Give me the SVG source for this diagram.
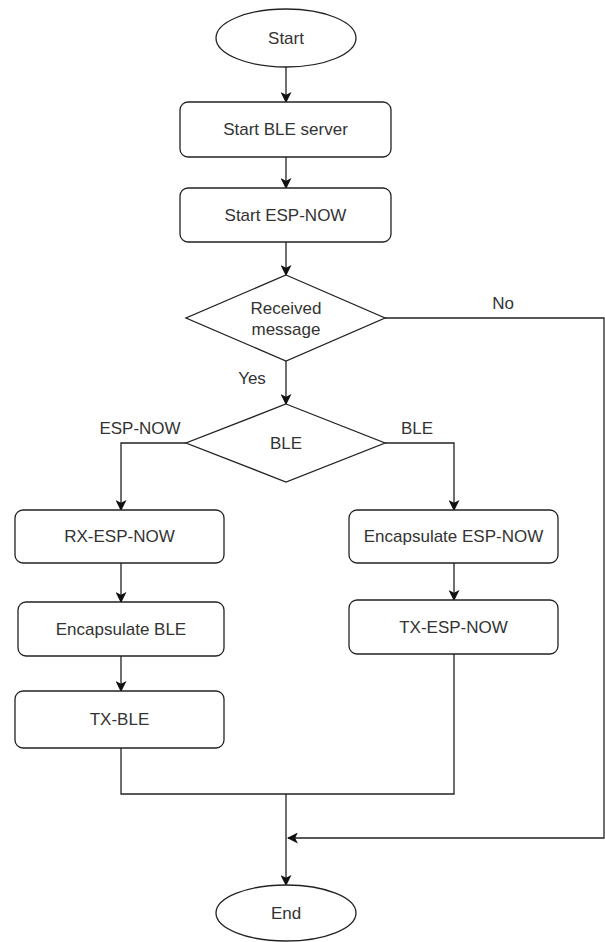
<svg xmlns="http://www.w3.org/2000/svg" width="605" height="942" viewBox="0 0 605 942">
<style>
.s{fill:#fff;stroke:#222;stroke-width:1.3}
.t{font-family:"Liberation Sans",Arial,sans-serif;font-size:17px;fill:#333;text-anchor:middle;dominant-baseline:central}
.c{fill:none;stroke:#222;stroke-width:1.3}
</style>
<defs>
<marker id="a" viewBox="0 0 10 10" refX="9" refY="5" markerWidth="11" markerHeight="11" markerUnits="userSpaceOnUse" orient="auto">
<path d="M0,0 L10,5 L0,10 L2.5,5 Z" fill="#111"/>
</marker>
</defs>
<g id="connectors">
<path class="c" d="M286,67 V102" marker-end="url(#a)"/>
<path class="c" d="M286,157 V188" marker-end="url(#a)"/>
<path class="c" d="M286,242 V275" marker-end="url(#a)"/>
<path class="c" d="M286,361 V404" marker-end="url(#a)"/>
<path class="c" d="M186,443 H121 V510" marker-end="url(#a)"/>
<path class="c" d="M385,443 H454 V510" marker-end="url(#a)"/>
<path class="c" d="M121,563 V602" marker-end="url(#a)"/>
<path class="c" d="M121,656 V691" marker-end="url(#a)"/>
<path class="c" d="M454,563 V600" marker-end="url(#a)"/>
<path class="c" d="M121,748 V794 H454 V654"/>
<path class="c" d="M286,794 V885" marker-end="url(#a)"/>
<path class="c" d="M385,318 H604 V838 H288" marker-end="url(#a)"/>
<text class="t" x="503" y="303">No</text>
<text class="t" x="252" y="378">Yes</text>
<text class="t" x="140" y="428">ESP-NOW</text>
<text class="t" x="417" y="428">BLE</text>
</g>
<g id="start"><ellipse class="s" cx="286" cy="38" rx="70" ry="29"/><text class="t" x="286" y="38">Start</text></g>
<g id="ble_server"><rect class="s" x="180" y="102" width="211" height="55" rx="8"/><text class="t" x="285.5" y="129.5">Start BLE server</text></g>
<g id="espnow"><rect class="s" x="180" y="188" width="211" height="54" rx="8"/><text class="t" x="285.5" y="215">Start ESP-NOW</text></g>
<g id="received"><path class="s" d="M286,275 L385,318 L286,361 L186,318 Z"/><text class="t" x="286" y="308">Received</text><text class="t" x="286" y="329">message</text></g>
<g id="ble_dec"><path class="s" d="M286,404 L385,443 L286,482 L186,443 Z"/><text class="t" x="286" y="443">BLE</text></g>
<g id="rx_espnow"><rect class="s" x="15" y="510" width="209" height="53" rx="8"/><text class="t" x="119.5" y="536.5">RX-ESP-NOW</text></g>
<g id="enc_ble"><rect class="s" x="18" y="602" width="206" height="54" rx="8"/><text class="t" x="121" y="629">Encapsulate BLE</text></g>
<g id="tx_ble"><rect class="s" x="15" y="691" width="209" height="57" rx="8"/><text class="t" x="119.5" y="719.5">TX-BLE</text></g>
<g id="enc_espnow"><rect class="s" x="349" y="510" width="209" height="53" rx="8"/><text class="t" x="453.5" y="536.5">Encapsulate ESP-NOW</text></g>
<g id="tx_espnow"><rect class="s" x="349" y="600" width="209" height="54" rx="8"/><text class="t" x="453.5" y="627">TX-ESP-NOW</text></g>
<g id="end"><ellipse class="s" cx="286" cy="913" rx="70" ry="28"/><text class="t" x="286" y="913">End</text></g>
</svg>
